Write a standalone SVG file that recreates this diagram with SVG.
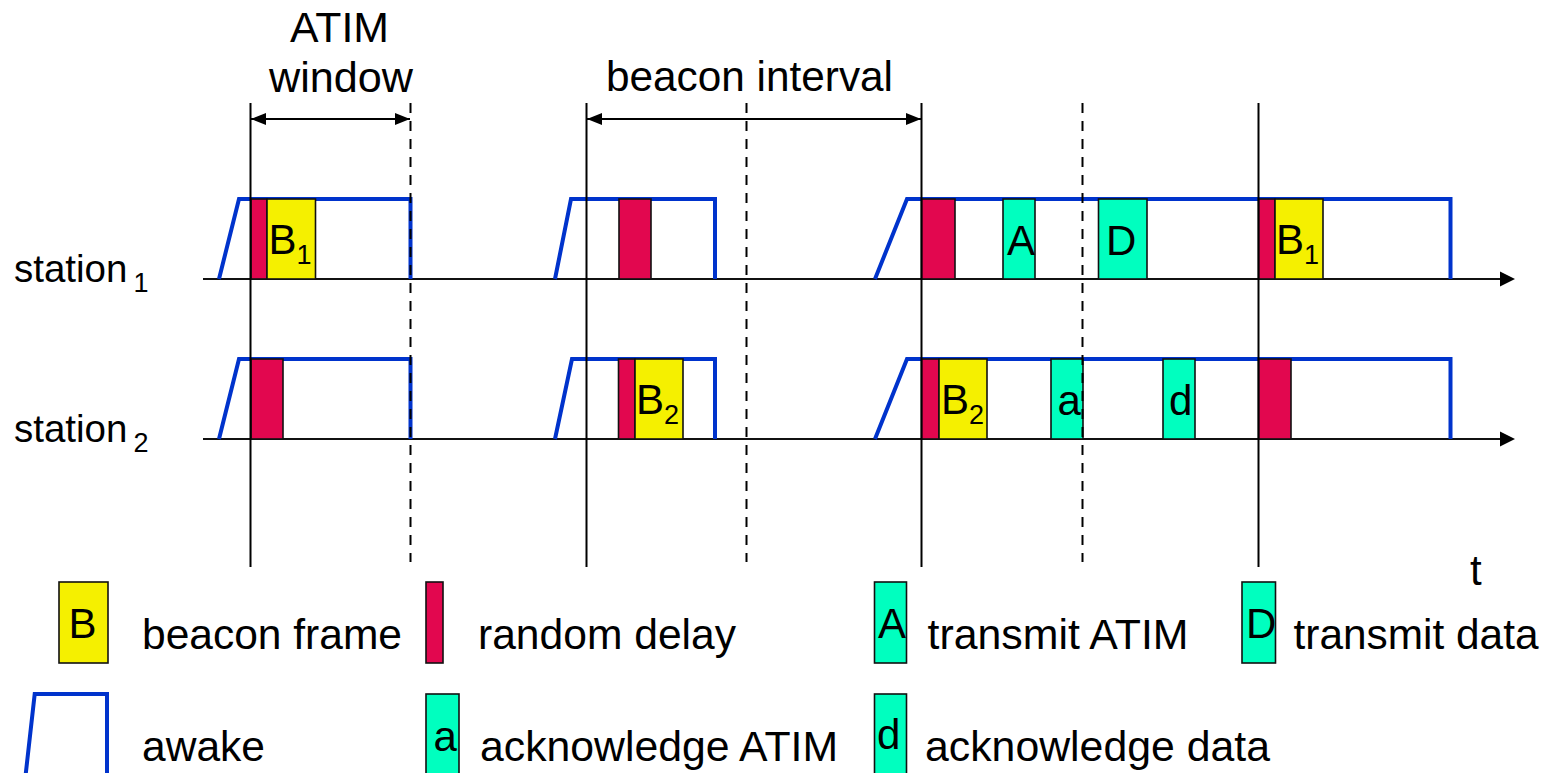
<svg xmlns="http://www.w3.org/2000/svg" width="1553" height="773" viewBox="0 0 1553 773">
<defs>
<style>
text{font-family:"Liberation Sans",Arial,Helvetica,sans-serif;font-size:42px;fill:#000}
.sub{font-size:27px}
.st{font-size:38.5px}
.awake{fill:none;stroke:#0033cc;stroke-width:4;stroke-linejoin:miter}
.vs{stroke:#000;stroke-width:2}
.vd{stroke:#000;stroke-width:2;stroke-dasharray:10 8}
.axis{stroke:#111;stroke-width:2}
.dim{stroke:#000;stroke-width:2;marker-start:url(#dimArrow);marker-end:url(#dimArrow)}
.b{fill:#f5f000;stroke:#111;stroke-width:1.6}
.r{fill:#e2074f;stroke:#111;stroke-width:1.6}
.g{fill:#00ffbf;stroke:#111;stroke-width:1.6}
</style>
<marker id="axisArrow" markerUnits="userSpaceOnUse" markerWidth="16" markerHeight="16" refX="0" refY="7.5" orient="auto" overflow="visible">
<path d="M0,0 L15,7.5 L0,15 Z" fill="#000"/>
</marker>
<marker id="dimArrow" markerUnits="userSpaceOnUse" markerWidth="16" markerHeight="14" refX="15" refY="6" orient="auto-start-reverse" overflow="visible">
<path d="M0,0 L15,6 L0,12 Z" fill="#000"/>
</marker>
</defs>
<rect width="1553" height="773" fill="#fff"/>

<g id="labels">
<text x="290" y="42" textLength="99" lengthAdjust="spacingAndGlyphs">ATIM</text>
<text x="269" y="92" textLength="144" lengthAdjust="spacingAndGlyphs">window</text>
<text x="606" y="91" textLength="287" lengthAdjust="spacingAndGlyphs">beacon interval</text>
<text x="14" y="282"><tspan class="st">station</tspan><tspan class="sub" dx="6" dy="10">1</tspan></text>
<text x="14" y="442"><tspan class="st">station</tspan><tspan class="sub" dx="6" dy="10">2</tspan></text>
<text x="1470" y="585">t</text>
</g>

<g id="connectors">
<line class="axis" x1="203" y1="279" x2="1500" y2="279" marker-end="url(#axisArrow)"/>
<line class="axis" x1="203" y1="439" x2="1500" y2="439" marker-end="url(#axisArrow)"/>
<line class="dim" x1="251" y1="119" x2="410" y2="119"/>
<line class="dim" x1="587" y1="119" x2="921" y2="119"/>
</g>

<g id="awake-station1">
<path class="awake" d="M219,279 L239,199 L410.5,199 L410.5,279"/>
<path class="awake" d="M555,279 L571,199 L715,199 L715,279"/>
<path class="awake" d="M875,279 L907,199 L1450.5,199 L1450.5,279"/>
</g>
<g id="awake-station2">
<path class="awake" d="M219,439 L239,359 L410.5,359 L410.5,439"/>
<path class="awake" d="M555,439 L572,359 L715,359 L715,439"/>
<path class="awake" d="M875,439 L907,359 L1450.5,359 L1450.5,439"/>
</g>

<g id="frames-station1">
<rect class="r" x="251" y="199" width="16" height="80"/>
<rect class="b" x="267" y="199" width="48.5" height="80"/>
<text x="268.5" y="254">B<tspan class="sub" dy="10">1</tspan></text>
<rect class="r" x="619" y="199" width="32" height="80"/>
<rect class="r" x="921.5" y="199" width="33.5" height="80"/>
<rect class="g" x="1003" y="199" width="32" height="80"/>
<text x="1007" y="255">A</text>
<rect class="g" x="1098.5" y="199" width="48.5" height="80"/>
<text x="1106" y="255">D</text>
<rect class="r" x="1258.5" y="199" width="16.5" height="80"/>
<rect class="b" x="1275" y="199" width="48" height="80"/>
<text x="1276" y="254">B<tspan class="sub" dy="10">1</tspan></text>
</g>

<g id="frames-station2">
<rect class="r" x="251" y="359" width="32" height="80"/>
<rect class="r" x="618.5" y="359" width="16.5" height="80"/>
<rect class="b" x="635" y="359" width="48" height="80"/>
<text x="636" y="414">B<tspan class="sub" dy="10">2</tspan></text>
<rect class="r" x="921.5" y="359" width="17.5" height="80"/>
<rect class="b" x="939" y="359" width="48" height="80"/>
<text x="941" y="414">B<tspan class="sub" dy="10">2</tspan></text>
<rect class="g" x="1051" y="359" width="32" height="80"/>
<text x="1057.5" y="415">a</text>
<rect class="g" x="1163" y="359" width="32" height="80"/>
<text x="1169" y="415">d</text>
<rect class="r" x="1258.5" y="359" width="32.5" height="80"/>
</g>

<g id="time-markers">
<line class="vs" x1="250.5" y1="103" x2="250.5" y2="567"/>
<line class="vs" x1="586.5" y1="103" x2="586.5" y2="567"/>
<line class="vs" x1="921.5" y1="103" x2="921.5" y2="567"/>
<line class="vs" x1="1258.5" y1="103" x2="1258.5" y2="567"/>
<line class="vd" x1="410.5" y1="103" x2="410.5" y2="562"/>
<line class="vd" x1="746.5" y1="103" x2="746.5" y2="562"/>
<line class="vd" x1="1082.5" y1="103" x2="1082.5" y2="562"/>
</g>

<g id="legend-beacon">
<rect class="b" x="59" y="582" width="49" height="81"/>
<text x="68.5" y="638">B</text>
<text x="142" y="649" textLength="260" lengthAdjust="spacingAndGlyphs">beacon frame</text>
</g>
<g id="legend-delay">
<rect class="r" x="426" y="582" width="17" height="81"/>
<text x="478" y="649" textLength="258" lengthAdjust="spacingAndGlyphs">random delay</text>
</g>
<g id="legend-atim">
<rect class="g" x="874.5" y="582" width="32" height="81"/>
<text x="878" y="638" font-size="38">A</text>
<text x="927.5" y="649" textLength="261" lengthAdjust="spacingAndGlyphs">transmit ATIM</text>
</g>
<g id="legend-data">
<rect class="g" x="1242" y="582" width="33.5" height="81"/>
<text x="1246" y="638" font-size="38">D</text>
<text x="1293.5" y="649" textLength="245" lengthAdjust="spacingAndGlyphs">transmit data</text>
</g>
<g id="legend-awake">
<path class="awake" d="M25.5,776 L34.7,694 L107,694 L107,776"/>
<text x="142" y="761" textLength="123" lengthAdjust="spacingAndGlyphs">awake</text>
</g>
<g id="legend-ack-atim">
<rect class="g" x="426" y="694" width="33" height="85"/>
<text x="433.5" y="751">a</text>
<text x="480" y="761" textLength="358" lengthAdjust="spacingAndGlyphs">acknowledge ATIM</text>
</g>
<g id="legend-ack-data">
<rect class="g" x="874.5" y="694" width="32" height="85"/>
<text x="877" y="749" font-size="38">d</text>
<text x="925" y="761" textLength="345" lengthAdjust="spacingAndGlyphs">acknowledge data</text>
</g>
</svg>
